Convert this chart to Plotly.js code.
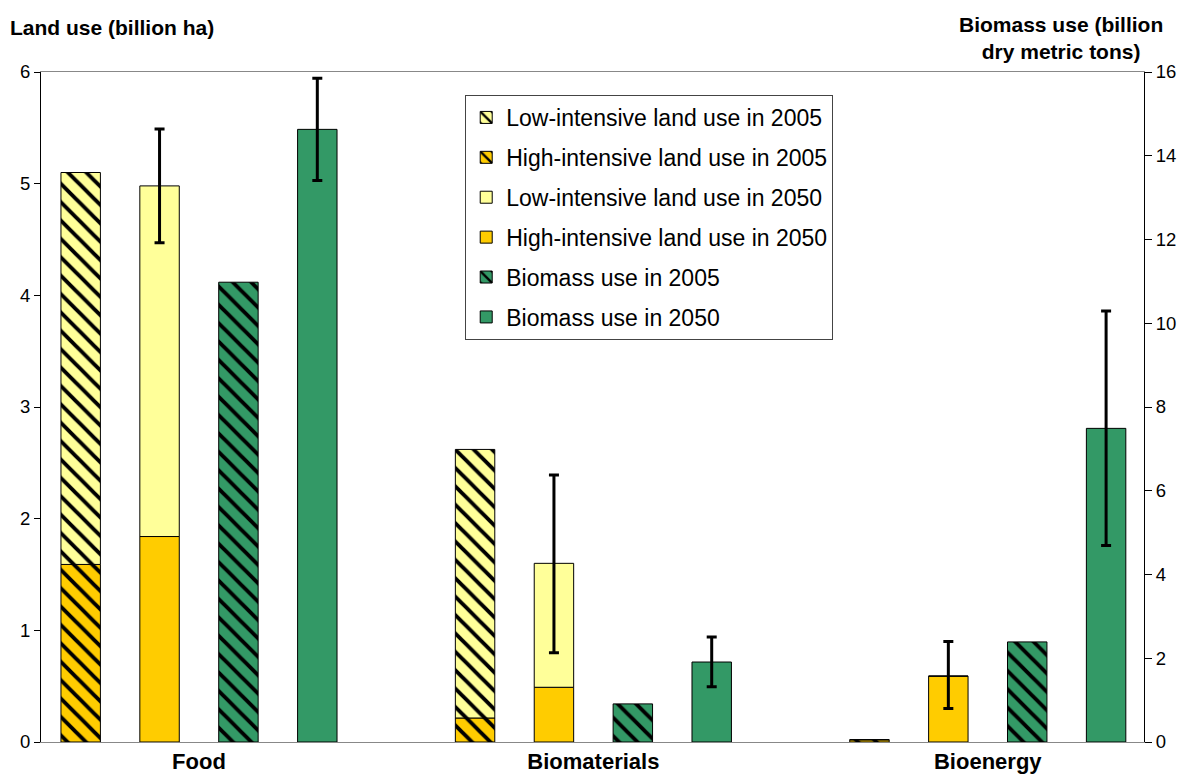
<!DOCTYPE html>
<html>
<head>
<meta charset="utf-8">
<script src="https://cdn.plot.ly/plotly-3.0.1.min.js"></script>
<style>
  html, body { margin: 0; padding: 0; background: #ffffff; }
  #chart { width: 1190px; height: 780px; }
</style>
</head>
<body>
<div id="chart"></div>
<script>
// ---- data ----
const categories = ['Food', 'Biomaterials', 'Bioenergy'];

// land use, billion ha (left axis)
const highLand2005 = [1.59, 0.215, 0.02];
const lowLand2005  = [3.51, 2.405, 0.0];   // stacked on top of high-intensive
const highLand2050 = [1.84, 0.49, 0.59];
const lowLand2050  = [3.14, 1.11, 0.0];    // stacked on top of high-intensive
const land2050Upper = [5.49, 2.39, 0.90];  // error bar ends (totals)
const land2050Lower = [4.47, 0.80, 0.30];

// biomass use, billion dry metric tons (right axis)
const biomass2005 = [10.98, 0.91, 2.39];
const biomass2050 = [14.63, 1.91, 7.49];
const biomass2050Upper = [15.85, 2.51, 10.29];
const biomass2050Lower = [13.41, 1.32, 4.69];

const seriesNames = [
  'Low-intensive land use in 2005',
  'High-intensive land use in 2005',
  'Low-intensive land use in 2050',
  'High-intensive land use in 2050',
  'Biomass use in 2005',
  'Biomass use in 2050'
];

// ---- styles ----
const LIGHT = '#FFFF99', GOLD = '#FFCC00', GREEN = '#339966';
const FONT = 'Liberation Sans, Arial, sans-serif';
const W = 0.1;
const hatch = (bg) => ({ shape: '\\', bgcolor: bg, fgcolor: '#000000', size: 13, solidity: 0.3, fillmode: 'replace' });
const outline = { color: '#000000', width: 1 };
const errStyle = { color: '#000000', thickness: 3, width: 5 };

const total2050 = highLand2050.map((h, i) => h + lowLand2050[i]);

const traces = [
  { type: 'bar', name: seriesNames[1], legendgroup: 'g2', legendrank: 2,
    x: categories, y: highLand2005, width: W, offset: -0.35,
    marker: { color: GOLD, line: outline, pattern: hatch(GOLD) } },
  { type: 'bar', name: seriesNames[0], legendgroup: 'g1', legendrank: 1,
    x: categories, y: lowLand2005, base: highLand2005, width: W, offset: -0.35,
    marker: { color: LIGHT, line: outline, pattern: hatch(LIGHT) } },
  { type: 'bar', name: seriesNames[3], legendgroup: 'g4', legendrank: 4,
    x: categories, y: highLand2050, width: W, offset: -0.15,
    marker: { color: GOLD, line: outline } },
  { type: 'bar', name: seriesNames[2], legendgroup: 'g3', legendrank: 3,
    x: categories, y: lowLand2050, base: highLand2050, width: W, offset: -0.15,
    marker: { color: LIGHT, line: outline },
    error_y: Object.assign({ type: 'data', symmetric: false,
      array: land2050Upper.map((u, i) => u - total2050[i]),
      arrayminus: land2050Lower.map((l, i) => total2050[i] - l) }, errStyle) },
  { type: 'bar', name: seriesNames[4], legendgroup: 'g5', legendrank: 5,
    x: categories, y: biomass2005, yaxis: 'y2', width: W, offset: 0.05,
    marker: { color: GREEN, line: outline, pattern: hatch(GREEN) } },
  { type: 'bar', name: seriesNames[5], legendgroup: 'g6', legendrank: 6,
    x: categories, y: biomass2050, yaxis: 'y2', width: W, offset: 0.25,
    marker: { color: GREEN, line: outline },
    error_y: Object.assign({ type: 'data', symmetric: false,
      array: biomass2050Upper.map((u, i) => u - biomass2050[i]),
      arrayminus: biomass2050Lower.map((l, i) => biomass2050[i] - l) }, errStyle) }
];

const layout = {
  width: 1190, height: 780,
  margin: { l: 41, r: 46, t: 72, b: 38 },
  paper_bgcolor: '#ffffff', plot_bgcolor: '#ffffff',
  font: { family: FONT, color: '#000000', size: 18 },
  barmode: 'overlay',
  showlegend: true,
  legend: {
    x: 0.3846, y: 0.9657, xanchor: 'left', yanchor: 'top',
    bgcolor: '#ffffff', bordercolor: '#444444', borderwidth: 1,
    font: { family: FONT, size: 23, color: '#000000' },
    tracegroupgap: 7, traceorder: 'grouped'
  },
  xaxis: {
    type: 'category', range: [-0.4006, 2.3961],
    showline: true, linecolor: '#888888', linewidth: 1, mirror: true,
    ticks: '', showgrid: false, zeroline: false,
    tickfont: { family: FONT, size: 22, weight: 'bold', color: '#000000' }
  },
  yaxis: {
    range: [0, 6], dtick: 1, tick0: 0,
    showline: true, linecolor: '#000000', linewidth: 1,
    ticks: 'outside', ticklen: 6, tickcolor: '#000000',
    showgrid: false, zeroline: false,
    tickfont: { family: FONT, size: 18.5, color: '#000000' }
  },
  yaxis2: {
    range: [0, 16], dtick: 2, tick0: 0, overlaying: 'y', side: 'right',
    showline: true, linecolor: '#000000', linewidth: 1,
    ticks: 'outside', ticklen: 7, tickcolor: '#000000',
    showgrid: false, zeroline: false,
    tickfont: { family: FONT, size: 18.5, color: '#000000' }
  },
  annotations: [
    { text: '<b>Land use (billion ha)</b>', xref: 'paper', yref: 'paper',
      x: -0.030, y: 1.067, xanchor: 'left', yanchor: 'middle', showarrow: false,
      font: { family: FONT, size: 21, color: '#000000' } },
    { text: '<b>Biomass use (billion<br>dry metric tons)</b>', xref: 'paper', yref: 'paper',
      x: 0.925, y: 1.05, xanchor: 'center', yanchor: 'middle', align: 'center', showarrow: false,
      font: { family: FONT, size: 21, color: '#000000' } }
  ]
};

Plotly.newPlot('chart', traces, layout, { staticPlot: true, displayModeBar: false });
</script>
</body>
</html>
